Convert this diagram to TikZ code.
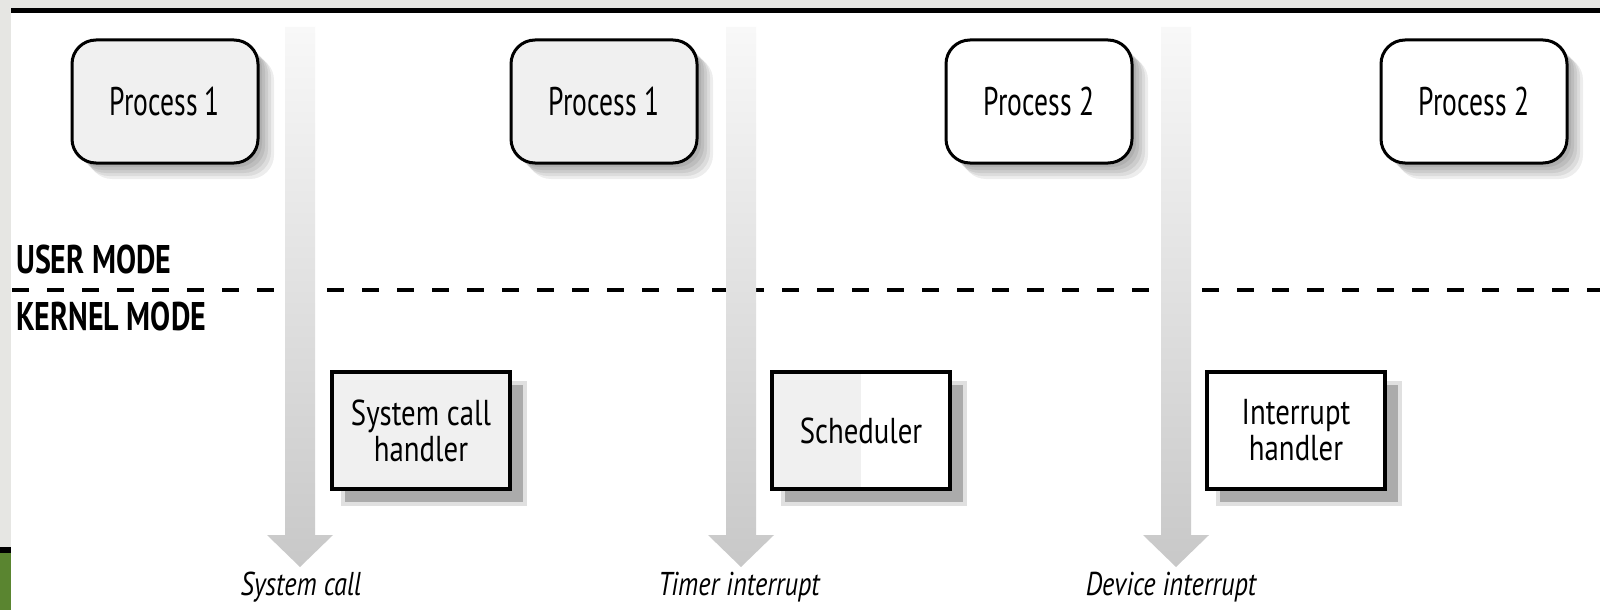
\documentclass[tikz,border=0pt]{standalone}
\usepackage{fontspec}
\setmainfont{PT Sans}[FakeStretch=0.69]
\newfontfamily\widefont{PT Sans}[FakeStretch=0.8]
\newfontfamily\modefont{PT Sans}[FakeStretch=0.75]
\usetikzlibrary{calc}
\definecolor{boxgray}{HTML}{F0F0F0}
\definecolor{arrowgray}{HTML}{C8C8C8}
\definecolor{arrowtop}{HTML}{F8F8F8}
\definecolor{slidegray}{HTML}{E6E6E3}
\definecolor{slidegreen}{HTML}{5A8530}
\begin{document}
\begin{tikzpicture}[x=1pt,y=-1pt,
  procbox/.style={draw=black, line width=3pt, rounded corners=24pt, minimum width=186pt, minimum height=123pt, font=\fontsize{40}{40}\selectfont, inner sep=0pt},
  kbox/.style={draw=black, line width=4.5pt, minimum width=178pt, minimum height=117pt, align=center, font=\widefont\fontsize{36}{36}\selectfont, inner sep=0pt},
  modelabel/.style={anchor=base west, font=\modefont\fontsize{40}{40}\selectfont\bfseries, inner sep=0pt},
  evlabel/.style={anchor=base, font=\widefont\fontsize{33}{33}\selectfont\itshape, inner sep=0pt},
  flowarrow/.style={top color=arrowtop, bottom color=arrowgray, draw=none},
]
\useasboundingbox (0,0) rectangle (1600,610);
% page background
\fill[white] (0,0) rectangle (1600,610);
\fill[slidegray] (0,0) rectangle (1600,8);
\fill[slidegray] (0,0) rectangle (11,547);
\fill[black] (0,547) rectangle (11,553);
\fill[slidegreen] (0,553) rectangle (11,610);
\fill[black] (11,8) rectangle (1600,13);

% mode separator
\coordinate (sepL) at (12,290);
\coordinate (sepR) at (1600,290);
\draw[line width=3.5pt, dash pattern=on 17pt off 18pt] (sepL) -- (sepR);
\node[modelabel] (user) at (16,273) {USER MODE};
\node[modelabel] (kernel) at (16,330) {KERNEL MODE};

% soft shadows of process boxes
\foreach \cx in {165,604,1039,1474}{
  \foreach \d in {4,7,10,13,16}{
    \fill[black,opacity=0.07,rounded corners=24pt] (\cx-93+\d,40+\d) rectangle (\cx+93+\d,163+\d);
  }
}
% process boxes
\node[procbox, fill=boxgray] (p1) at (165,101.5) {Process 1};
\node[procbox, fill=boxgray] (p2) at (604,101.5) {Process 1};
\node[procbox, fill=white] (p3) at (1039,101.5) {Process 2};
\node[procbox, fill=white] (p4) at (1474,101.5) {Process 2};

% flow arrows
\foreach \c in {300,741,1176}{
  \shade[flowarrow] (\c-15,27) -- (\c+15,27) -- (\c+15,535) -- (\c+33,535) -- (\c,567) -- (\c-33,535) -- (\c-15,535) -- cycle;
}
\node[evlabel] (e1) at (301,595) {System call};
\node[evlabel] (e2) at (739,595) {Timer interrupt};
\node[evlabel] (e3) at (1171,595) {Device interrupt};

% kernel boxes shadows
\foreach \cx in {421,861,1296}{
  \fill[black!12] (\cx-89+9,372+9) rectangle (\cx+89+17,489+17);
  \fill[black!33] (\cx-89+13,372+13) rectangle (\cx+89+13,489+13);
}
\node[kbox, fill=boxgray] (k1) at (421,430.5) {System call\\handler};
\node[kbox, fill=white, path picture={\fill[boxgray] (path picture bounding box.south west) rectangle ($(path picture bounding box.north west)!0.5!(path picture bounding box.north east)$);}] (k2) at (861,430.5) {Scheduler};
\node[kbox, fill=white] (k3) at (1296,430.5) {Interrupt\\handler};
\end{tikzpicture}
\end{document}
